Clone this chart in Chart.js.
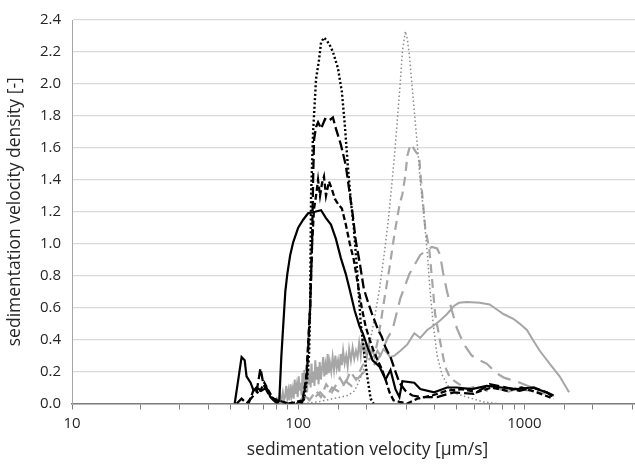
<!DOCTYPE html>
<html>
<head>
<meta charset="utf-8">
<title>sedimentation velocity density</title>
<script src="https://cdn.jsdelivr.net/npm/chart.js@4.4.1/dist/chart.umd.min.js"></script>
<style>
  html, body { margin: 0; padding: 0; background: #fff; overflow: hidden; }
  #wrap { width: 668px; height: 465px; }
</style>
</head>
<body>
<div id="wrap"><canvas id="chart" width="668" height="465"></canvas></div>
<script>
// =====================================================
//  DATA — [velocity µm/s, density]
// =====================================================

const blackSolid = [[52.4,0],[54.6,0.17],[56.2,0.29],[58.0,0.27],[59.1,0.17],[61.6,0.13],[63.5,0.08],[65.4,0.1],[68.8,0.08],[72.4,0.1],[75.4,0.04],[77.7,0.02],[80.9,0],[82.5,0.02],[84.2,0.29],[87.7,0.7],[89.5,0.81],[92.2,0.93],[95.1,1.01],[100,1.1],[105.2,1.15],[110.6,1.19],[118.7,1.2],[126.2,1.21],[132.7,1.16],[139.6,1.12],[146.8,1.03],[154.4,0.91],[162.4,0.81],[169.1,0.71],[177.8,0.58],[187.1,0.48],[192.9,0.44],[202.9,0.35],[213.3,0.27],[229,0.23],[243.3,0.15],[255.9,0.21],[269.1,0.09],[280.2,0.04],[288.8,0.14],[326,0.13],[346.4,0.09],[399,0.07],[455.1,0.1],[503.2,0.1],[585.3,0.09],[680.9,0.11],[791.6,0.1],[922.3,0.09],[1079,0.1],[1254,0.07],[1346,0.05]];

const blackDash = [[60.3,0],[64.1,0.1],[66.8,0.06],[70.9,0.13],[73.9,0.08],[77.7,0.03],[90.4,0],[104.1,0.01],[108.4,0.15],[112.9,0.6],[115.2,1.0],[117.5,1.22],[119.9,1.3],[122.4,1.4],[124.9,1.3],[127.5,1.38],[130,1.42],[132.7,1.3],[136.8,1.39],[141,1.34],[145.3,1.28],[149.8,1.25],[156,1.22],[162.4,1.12],[169.1,1.0],[176.1,0.9],[183.4,0.75],[191,0.6],[198.8,0.48],[207,0.4],[215.5,0.33],[224.4,0.27],[233.7,0.22],[243.3,0.15],[253.3,0.07],[263.8,0.02],[280.2,0.01],[303.8,0],[336.1,0.03],[391.1,0.05],[455.1,0.08],[529.3,0.09],[615.7,0.07],[716.2,0.1],[832.4,0.08],[972.6,0.1],[1134,0.07],[1346,0.03]];

const blackLongDash = [[53.5,0],[56.2,0.03],[59.1,0],[65.4,0.07],[68.1,0.22],[70.2,0.12],[73.9,0.06],[78.5,0.02],[90.4,0],[105.2,0.02],[109.5,0.2],[112.9,0.6],[115.2,1.0],[116.4,1.4],[117.5,1.65],[119.9,1.73],[122.4,1.76],[126.2,1.72],[131.4,1.78],[136.8,1.77],[142.4,1.79],[146.8,1.72],[154.4,1.62],[162.4,1.49],[169.1,1.31],[174.3,1.18],[179.6,1.02],[187.1,0.88],[194.9,0.72],[202.9,0.64],[213.3,0.55],[224.4,0.47],[233.7,0.42],[243.3,0.35],[255.9,0.29],[269.1,0.2],[280.2,0.13],[297.7,0.08],[319.5,0.05],[353.5,0.04],[411.3,0.04],[488.1,0.07],[597.2,0.06],[702,0.12],[832.4,0.1],[952.2,0.08],[1100,0.1],[1254,0.07],[1346,0.04]];

const blackDotted = [[98,0],[103.1,0],[106.2,0.03],[109.5,0.15],[111.7,0.3],[112.9,0.6],[113.5,1.0],[114,1.3],[116.4,1.7],[119.9,2.03],[123.6,2.15],[126.2,2.26],[130,2.29],[134.1,2.27],[138.2,2.24],[142.4,2.2],[149.8,2.1],[156,1.95],[160.8,1.74],[165.7,1.49],[170.8,1.27],[176.1,1.1],[183.4,0.78],[189,0.5],[196.8,0.29],[202.9,0.15],[209.1,0.03],[215.5,0]];

const graySolid = [[79,0],[80.5,0.03],[81.5,0.01],[83,0.05],[84,0.01],[85.5,0.07],[86.5,0.02],[87.5,0.04],[88.5,0.11],[89.5,0.03],[90.5,0.08],[91.5,0.02],[92.5,0.12],[93.5,0.05],[94.5,0.09],[95.5,0.03],[96.5,0.15],[97.5,0.06],[98.5,0.11],[99.5,0.04],[100.5,0.17],[101.5,0.08],[102.5,0.13],[103.5,0.05],[104.5,0.19],[105.5,0.09],[106.5,0.21],[107.5,0.1],[108.5,0.15],[109.5,0.07],[110.5,0.22],[111.5,0.12],[112.5,0.18],[113.5,0.1],[114.5,0.25],[115.5,0.13],[117,0.2],[118,0.11],[119,0.27],[120.5,0.15],[122,0.23],[123,0.12],[124.5,0.26],[126,0.15],[127.5,0.22],[129,0.29],[130.5,0.17],[132,0.24],[133.5,0.18],[135,0.31],[136.5,0.19],[138,0.26],[140,0.2],[142,0.29],[144,0.21],[146,0.3],[148,0.22],[150,0.27],[152,0.2],[154,0.31],[156,0.24],[158,0.33],[160.5,0.25],[163,0.3],[165.5,0.23],[168,0.34],[171,0.27],[174,0.35],[177,0.28],[180,0.33],[183,0.29],[186,0.38],[189,0.3],[192,0.41],[195,0.32],[198,0.36],[201,0.29],[205,0.37],[209,0.3],[213,0.34],[218,0.29],[224,0.33],[231,0.3],[238,0.34],[246,0.32],[255,0.29],[266.4,0.3],[283.1,0.33],[303.8,0.37],[326,0.44],[346.4,0.41],[371.8,0.46],[399,0.49],[424,0.52],[455.1,0.56],[488.1,0.61],[513.5,0.63],[556.8,0.635],[634.6,0.63],[702,0.62],[753,0.59],[807.7,0.56],[893.3,0.53],[952.2,0.5],[1026,0.46],[1100,0.39],[1169,0.33],[1293,0.25],[1431,0.17],[1576,0.07]];

const grayLongDash = [[100,0],[108,0.04],[115,0.02],[124.9,0.07],[133,0.03],[141,0.1],[152.9,0.07],[162,0.14],[172,0.11],[187.1,0.17],[202.9,0.22],[219.9,0.25],[235.9,0.33],[248.3,0.41],[261,0.46],[283.1,0.66],[310,0.81],[346.4,0.93],[372,0.96],[390,0.98],[411.3,0.97],[424,0.93],[436.8,0.82],[455.1,0.7],[478.4,0.58],[503.2,0.47],[540.1,0.37],[585.3,0.3],[634.6,0.27],[680.9,0.25],[753,0.19],[816,0.16],[922.3,0.14],[993.4,0.12],[1079,0.1],[1193,0.08],[1346,0.05]];

const grayDash = [[100,0],[106,0.05],[112,0.02],[119.9,0.08],[126,0.04],[133,0.12],[141,0.07],[152.9,0.16],[160,0.11],[170,0.2],[180,0.15],[192.9,0.24],[207,0.28],[217.7,0.3],[224.4,0.39],[231.3,0.5],[240.8,0.66],[253.3,0.85],[266.4,1.06],[280.2,1.24],[288.8,1.31],[297.7,1.43],[303.8,1.55],[313.1,1.62],[322.8,1.6],[332.7,1.57],[342.9,1.55],[346.4,1.45],[353.5,1.31],[364.4,1.1],[379.4,0.97],[391.1,0.77],[403.1,0.56],[424,0.39],[446,0.23],[469.1,0.16],[503.2,0.13],[556.8,0.09],[615.7,0.11],[680.9,0.08],[753,0.1],[832.4,0.07],[922.3,0.09],[1079,0.08],[1254,0.06],[1346,0.05]];

const grayDotted = [[105.2,0],[122.4,0.01],[142.4,0.03],[165.7,0.05],[177.8,0.08],[187.1,0.15],[196.8,0.23],[207,0.37],[217.7,0.54],[229,0.72],[240.8,0.95],[250.8,1.16],[258.5,1.35],[266.4,1.55],[274.6,1.78],[283.1,2.02],[288.8,2.2],[297.7,2.33],[303.8,2.28],[310,2.18],[319.5,1.97],[329.3,1.76],[339.5,1.55],[346.4,1.39],[357.1,1.22],[371.8,0.95],[383.2,0.7],[395,0.5],[411.3,0.3],[432.6,0.18],[459.7,0.11],[503.2,0.06],[556.8,0.04],[660.4,0.01],[753,0]];

// log axis: only the decades carry a label
const xLabels = [10, 100, 1000];

const FONT = "'Open Sans', 'Noto Sans', sans-serif";
const TEXT = "#262626";

// =====================================================
//  CHART
// =====================================================

function series(points, color, width, dash) {
  return {
    data: points.map(([x, y]) => ({ x, y })),
    borderColor: color,
    borderWidth: width,
    borderDash: dash,
    pointRadius: 0,
    tension: 0,
    fill: false,
  };
}

const ctx = document.getElementById("chart").getContext("2d");

new Chart(ctx, {
  type: "line",
  data: {
    datasets: [
      series(blackDotted,   "#000000", 2.4, [2, 2.3]),
      series(blackLongDash, "#000000", 2.3, [10, 4]),
      series(blackDash,     "#000000", 2.3, [6, 3]),
      series(blackSolid,    "#000000", 2.2, []),
      series(grayDotted,    "#8c8c8c", 1.5, [1.5, 2.5]),
      series(grayDash,      "#a6a6a6", 2.2, [9, 6]),
      series(grayLongDash,  "#a6a6a6", 2.2, [14, 8]),
      series(graySolid,     "#a6a6a6", 2.0, []),
    ]
  },
  options: {
    responsive: false,
    animation: false,
    layout: { padding: { top: 17, left: 0, right: 0, bottom: 0 } },
    scales: {
      x: {
        type: "logarithmic",
        position: "bottom",
        min: 10,
        max: 4100,
        afterFit: (scale) => { scale.height = 61.5; },
        border: { color: "#7f7f7f", width: 1.5 },
        grid: { drawOnChartArea: false, drawTicks: true, tickLength: 6, color: "#7f7f7f" },
        ticks: {
          autoSkip: false,
          maxRotation: 0,
          padding: 5,
          color: TEXT,
          font: { family: FONT, size: 15 },
          callback: function (v) {
            return xLabels.includes(Math.round(v)) ? String(Math.round(v)) : "";
          }
        },
        title: {
          display: true,
          text: "sedimentation velocity [µm/s]",
          color: TEXT,
          font: { family: FONT, size: 17.5 },
          padding: { top: 0, bottom: 4 }
        }
      },
      y: {
        type: "linear",
        min: 0,
        max: 2.4,
        afterFit: (scale) => { scale.width = 72; },
        border: { color: "#a6a6a6", width: 1 },
        grid: { color: "#d9d9d9", lineWidth: 1.3, drawTicks: false },
        ticks: {
          stepSize: 0.2,
          padding: 11,
          color: TEXT,
          font: { family: FONT, size: 15 },
          callback: (v) => v.toFixed(1)
        },
        title: {
          display: true,
          text: "sedimentation velocity density [-]",
          color: TEXT,
          font: { family: FONT, size: 17.5 },
          padding: { top: 5, bottom: 0 }
        }
      }
    },
    plugins: {
      legend:  { display: false },
      tooltip: { enabled: false }
    }
  }
});
</script>
</body>
</html>
